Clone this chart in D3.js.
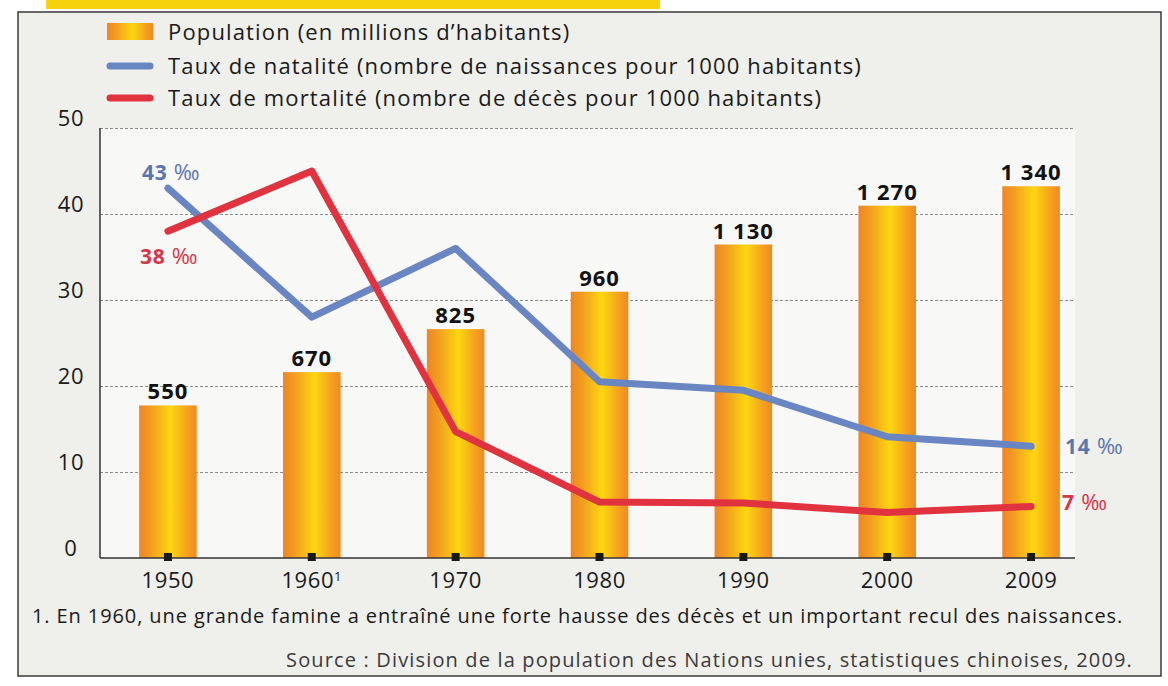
<!DOCTYPE html>
<html>
<head>
<meta charset="utf-8">
<script src="https://cdn.jsdelivr.net/npm/d3@7"></script>
<style>
  body { margin: 0; background: #ffffff; }
  svg { display: block; font-family: "Open Sans", "Noto Sans", sans-serif; }
</style>
</head>
<body>
<div id="container"></div>
<script>
// DATA
const years = ["1950", "1960", "1970", "1980", "1990", "2000", "2009"];
const population = [550, 670, 825, 960, 1130, 1270, 1340];
const popLabels = ["550", "670", "825", "960", "1 130", "1 270", "1 340"];
const natalite = [43, 28, 36, 20.5, 19.5, 14.1, 13];
const mortalite = [38, 45, 14.7, 6.5, 6.4, 5.3, 6];
const yTicks = [0, 10, 20, 30, 40, 50];
const legendLabels = [
  "Population (en millions d\u2019habitants)",
  "Taux de natalit\u00e9 (nombre de naissances pour 1000 habitants)",
  "Taux de mortalit\u00e9 (nombre de d\u00e9c\u00e8s pour 1000 habitants)"
];
const natLabels = ["43 ", "14 "];
const mortLabels = ["38 ", "7 "];
const footnote = "1. En 1960, une grande famine a entra\u00een\u00e9 une forte hausse des d\u00e9c\u00e8s et un important recul des naissances.";
const source = "Source : Division de la population des Nations unies, statistiques chinoises, 2009.";

// VARIABLES
const width = 1168;
const height = 686;
const plot = {left: 100, right: 1075, top: 128, bottom: 558};
const blue = "#6a86c2";
const red = "#e1323f";

// SCALES
const x = d3.scaleBand()
  .domain(years)
  .range([96, 1103])
  .paddingInner(0.6)
  .paddingOuter(0.3);

const y = d3.scaleLinear()
  .domain([0, 50])
  .range([plot.bottom, plot.top]);

const yPop = d3.scaleLinear()
  .domain([0, 1550])
  .range([plot.bottom, plot.top]);

const cx = d => x(d) + x.bandwidth() / 2;

// ELEMENTS
const svg = d3.select("#container")
  .append("svg")
  .attr("width", width)
  .attr("height", height);

const defs = svg.append("defs");
const grad = defs.append("linearGradient")
  .attr("id", "barGrad")
  .attr("x1", "0%").attr("x2", "100%").attr("y1", "0%").attr("y2", "0%");
[[0, "#ee8524"], [0.22, "#f4a020"], [0.55, "#fcd70f"], [0.82, "#f5a41f"], [1, "#f08a22"]]
  .forEach(s => grad.append("stop").attr("offset", s[0]).attr("stop-color", s[1]));

// paper + frame
svg.append("rect").attr("x", 0).attr("y", 0).attr("width", width).attr("height", height).attr("fill", "#ffffff");
svg.append("rect").attr("x", 46).attr("y", 0).attr("width", 614).attr("height", 9).attr("fill", "#f6d20c");
svg.append("rect")
  .attr("x", 18).attr("y", 12).attr("width", 1143).attr("height", 664)
  .attr("fill", "#efefec").attr("stroke", "#3a3a3a").attr("stroke-width", 1.5);
svg.append("rect")
  .attr("x", plot.left).attr("y", plot.top)
  .attr("width", plot.right - plot.left).attr("height", plot.bottom - plot.top)
  .attr("fill", "#f8f8f6");

// LEGEND
const legend = svg.append("g").attr("transform", "translate(107,0)");
const legendY = [32, 66, 98];
legend.append("rect").attr("x", 0).attr("y", legendY[0] - 9).attr("width", 46).attr("height", 17).attr("fill", "url(#barGrad)");
legend.append("line").attr("x1", 3).attr("x2", 43).attr("y1", legendY[1]).attr("y2", legendY[1])
  .attr("stroke", blue).attr("stroke-width", 7).attr("stroke-linecap", "round");
legend.append("line").attr("x1", 3).attr("x2", 43).attr("y1", legendY[2]).attr("y2", legendY[2])
  .attr("stroke", red).attr("stroke-width", 7).attr("stroke-linecap", "round");
legend.selectAll("text.leg")
  .data(legendLabels)
  .join("text")
  .attr("class", "leg")
  .attr("x", 61)
  .attr("y", (d, i) => legendY[i])
  .attr("dy", "0.35em")
  .attr("font-size", 22)
  .attr("letter-spacing", 1.15)
  .attr("fill", "#1a1a1a")
  .text(d => d);

// AXES
const yAxis = svg.append("g")
  .attr("transform", `translate(${plot.left},0)`)
  .call(d3.axisLeft(y).tickValues(yTicks).tickSize(-(plot.right - plot.left)).tickPadding(0));
yAxis.select(".domain").remove();
yAxis.selectAll(".tick line")
  .attr("stroke", "#8a8a8a")
  .attr("stroke-dasharray", "3,2")
  .attr("stroke-width", 1)
  .filter(d => d === 0).remove();
yAxis.selectAll(".tick text")
  .attr("x", -29)
  .attr("dy", "-0.1em")
  .attr("text-anchor", "middle")
  .attr("font-size", 22)
  .attr("letter-spacing", 0.8)
  .attr("font-family", "\"Open Sans\", sans-serif")
  .attr("fill", "#1a1a1a");

// BARS
svg.selectAll("rect.bar")
  .data(population)
  .join("rect")
  .attr("class", "bar")
  .attr("x", (d, i) => x(years[i]))
  .attr("y", d => yPop(d))
  .attr("width", x.bandwidth())
  .attr("height", d => plot.bottom - yPop(d))
  .attr("fill", "url(#barGrad)");

svg.selectAll("text.pop")
  .data(population)
  .join("text")
  .attr("class", "pop")
  .attr("x", (d, i) => cx(years[i]))
  .attr("y", d => yPop(d) - 6)
  .attr("text-anchor", "middle")
  .attr("font-size", 22)
  .attr("letter-spacing", 1)
  .attr("font-weight", "bold")
  .attr("fill", "#111")
  .text((d, i) => popLabels[i]);

// axis lines
svg.append("line")
  .attr("x1", plot.left).attr("x2", plot.left)
  .attr("y1", plot.top).attr("y2", plot.bottom)
  .attr("stroke", "#333").attr("stroke-width", 1.5);
svg.append("line")
  .attr("x1", plot.left).attr("x2", plot.right)
  .attr("y1", plot.bottom).attr("y2", plot.bottom)
  .attr("stroke", "#333").attr("stroke-width", 1.5);

// LINES
const line = d3.line()
  .x((d, i) => cx(years[i]))
  .y(d => y(d));

svg.append("path")
  .datum(natalite)
  .attr("d", line)
  .attr("fill", "none")
  .attr("stroke", blue)
  .attr("stroke-width", 7)
  .attr("stroke-linejoin", "round")
  .attr("stroke-linecap", "round");

svg.append("path")
  .datum(mortalite)
  .attr("d", line)
  .attr("fill", "none")
  .attr("stroke", red)
  .attr("stroke-width", 7)
  .attr("stroke-linejoin", "round")
  .attr("stroke-linecap", "round");

// tick squares on baseline
svg.selectAll("rect.mark")
  .data(years)
  .join("rect")
  .attr("class", "mark")
  .attr("x", d => cx(d) - 4)
  .attr("y", plot.bottom - 5)
  .attr("width", 8)
  .attr("height", 8)
  .attr("fill", "#1a1a1a");

// x labels
const xLab = svg.selectAll("text.year")
  .data(years)
  .join("text")
  .attr("class", "year")
  .attr("x", d => cx(d))
  .attr("y", plot.bottom + 22)
  .attr("dy", "0.35em")
  .attr("text-anchor", "middle")
  .attr("font-size", 22)
  .attr("letter-spacing", 0.6)
  .attr("fill", "#1a1a1a")
  .text(d => d);
xLab.filter(d => d === "1960")
  .append("tspan")
  .attr("dy", "-0.55em")
  .attr("font-size", 13)
  .text("1");

// rate end labels: bold number + regular per-mille sign
const n = years.length - 1;
function rateLabel(px, py, txt, color) {
  const t = svg.append("text").attr("x", px).attr("y", py).attr("dy", "0.35em")
    .attr("font-size", 21).attr("letter-spacing", 0.8).attr("fill", color);
  t.append("tspan").attr("font-weight", "bold").text(txt);
  t.append("tspan").attr("font-size", 22).text("\u2030");
}
rateLabel(cx(years[0]) - 26, y(natalite[0]) - 16, natLabels[0], "#5b76ad");
rateLabel(cx(years[0]) - 28, y(mortalite[0]) + 25, mortLabels[0], "#d8354a");
rateLabel(cx(years[n]) + 34, y(natalite[n]), natLabels[1], "#5b76ad");
rateLabel(cx(years[n]) + 31, y(mortalite[n]) - 4, mortLabels[1], "#d8354a");

// NOTES
svg.append("text")
  .attr("x", 32).attr("y", 616).attr("dy", "0.35em")
  .attr("font-size", 20).attr("letter-spacing", 0.9).attr("fill", "#1a1a1a")
  .text(footnote);
svg.append("text")
  .attr("x", 1133).attr("y", 660).attr("dy", "0.35em")
  .attr("text-anchor", "end")
  .attr("font-size", 20).attr("letter-spacing", 1.15).attr("fill", "#3a3a3a")
  .text(source);
</script>
</body>
</html>
